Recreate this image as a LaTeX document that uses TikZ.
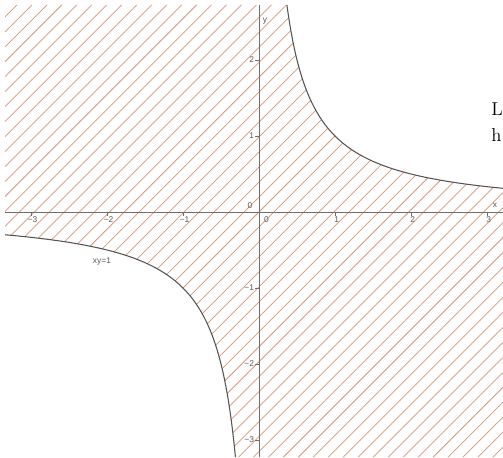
\documentclass[tikz,border=0pt]{standalone}
\usepackage{fontspec}
\newfontfamily\labfont{Liberation Sans}
\definecolor{hatchc}{RGB}{214,150,122}
\definecolor{curvec}{RGB}{85,85,85}
\definecolor{axisc}{RGB}{110,110,110}
\definecolor{labc}{RGB}{90,90,90}
\tikzset{
  hatch/.style={draw=hatchc, line width=0.55pt},
  curveline/.style={draw=curvec, line width=0.8pt},
  axisline/.style={draw=axisc, line width=0.75pt},
  tickline/.style={draw=axisc, line width=0.6pt},
  ticklab/.style={text=labc, font=\labfont\fontsize{6.3}{7}\selectfont, inner sep=0pt},
  sidetext/.style={font=\fontsize{14}{16}\selectfont, inner sep=0pt, anchor=base west}
}
\begin{document}
\begin{tikzpicture}[x=0.75pt,y=-0.75pt]
\useasboundingbox (0,0) rectangle (503,457);
\begin{scope}[shift={(259,212)}, x=57pt, y=57pt]
  % hatched region xy <= 1
  \begin{scope}
    \clip (-3.342,2.724) -- (0.3671,2.724)
      -- plot[domain=0.3671:3.21,samples=120] (\x,{1/\x})
      -- (3.21,-3.224) -- (-0.3102,-3.224)
      -- plot[domain=-0.3102:-3.342,samples=120] (\x,{1/\x}) -- cycle;
    \foreach \k in {-37,...,36}
      \draw[hatch] ({\k*0.197-3.5},-3.5) -- ++(7,7);
  \end{scope}
  % axes
  \coordinate (xl) at (-3.342,0);
  \coordinate (xr) at (3.21,0);
  \coordinate (yb) at (0,-3.224);
  \coordinate (yt) at (0,2.724);
  \draw[axisline] (xl) -- (xr);
  \draw[axisline] (yb) -- (yt);
  % curve
  \draw[curveline] plot[domain=0.3671:3.21,samples=150] (\x,{1/\x});
  \draw[curveline] plot[domain=-0.3102:-3.342,samples=150] (\x,{1/\x});
  % ticks and labels
  \foreach \k/\t in {-3/−3,-2/−2,-1/−1,1/1,2/2,3/3}{
    \coordinate (xt\k) at (\k,0);
    \draw[tickline] (xt\k) -- ++(0pt,-3pt);
    \node[ticklab, anchor=north, xshift=1.2pt, yshift=-3.5pt] (xlab\k) at (xt\k) {\t};
  }
  \foreach \k/\t in {-3/−3,-2/−2,-1/−1,1/1,2/2}{
    \coordinate (yt\k) at (0,\k);
    \draw[tickline] (yt\k) -- ++(-3pt,0pt);
    \node[ticklab, anchor=east, xshift=-3.5pt] (ylab\k) at (yt\k) {\t};
  }
  \coordinate (orig) at (0,0);
  \node[ticklab, xshift=-6.8pt, yshift=5pt] (o1) at (orig) {0};
  \node[ticklab, anchor=north, xshift=5.5pt, yshift=-3.5pt] (o2) at (orig) {0};
  \node[ticklab] (xname) at (3.105,0.09) {x};
  \node[ticklab] (yname) at (0.079,2.51) {y};
  \node[ticklab] (eq) at (-2.066,-0.645) {xy=1};
\end{scope}
\node[sidetext] (tl) at (491,115) {L};
\node[sidetext] (th) at (491,141) {h};
\end{tikzpicture}
\end{document}
